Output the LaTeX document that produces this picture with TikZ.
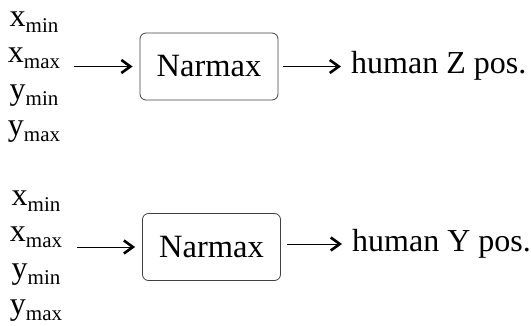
\documentclass[tikz,border=0pt]{standalone}
\usepackage{fontspec}
\setmainfont{Liberation Serif}
\usepackage{tikz}
\usetikzlibrary{arrows.meta, positioning}
\newcommand{\varsub}[2]{#1\raisebox{-6pt}{\fontsize{21}{21}\selectfont #2}}
\tikzstyle{inputs} = [align=center, inner sep=3pt, font=\fontsize{32}{36.5}\selectfont]
\tikzstyle{model} = [draw=black!75, line width=0.8pt, rounded corners=6pt, minimum width=138pt,
                     minimum height=67pt, font=\fontsize{32.5}{37}\selectfont]
\tikzstyle{result} = [anchor=west, inner sep=0, font=\fontsize{32}{37}\selectfont]
\tikzstyle{flow} = [-{Straight Barb[length=9pt, width=13pt, line width=2.6pt]}, line width=0.8pt]

\begin{document}
\begin{tikzpicture}[x=1pt, y=1pt]
	\useasboundingbox (0, 0) rectangle (531, -326);

	% Z position
	\node (InZ) [inputs] at (34, -77) {\varsub{x}{min}\\ \varsub{x}{max}\\ \varsub{y}{min}\\ \varsub{y}{max}};
	\node (NarmaxZ) [model] at (209, -66.5) {Narmax};
	\node (OutZ) [result] at (351, -66) {human Z pos.};
	\draw [flow, shorten <=11pt, shorten >=7pt] (InZ.east |- NarmaxZ.west) -- (NarmaxZ.west);
	\draw [flow, shorten <=5pt, shorten >=10pt] (NarmaxZ.east) -- (NarmaxZ.east -| OutZ.west);

	% Y position
	\node (InY) [inputs] at (36, -256) {\varsub{x}{min}\\ \varsub{x}{max}\\ \varsub{y}{min}\\ \varsub{y}{max}};
	\node (NarmaxY) [model] at (211.5, -247) {Narmax};
	\node (OutY) [result] at (352, -244) {human Y pos.};
	\draw [flow, shorten <=12pt, shorten >=7pt] (InY.east |- NarmaxY.west) -- (NarmaxY.west);
	\draw [flow, shorten <=6pt, shorten >=10pt] (NarmaxY.east |- OutY.west) -- (OutY.west);
\end{tikzpicture}
\end{document}
